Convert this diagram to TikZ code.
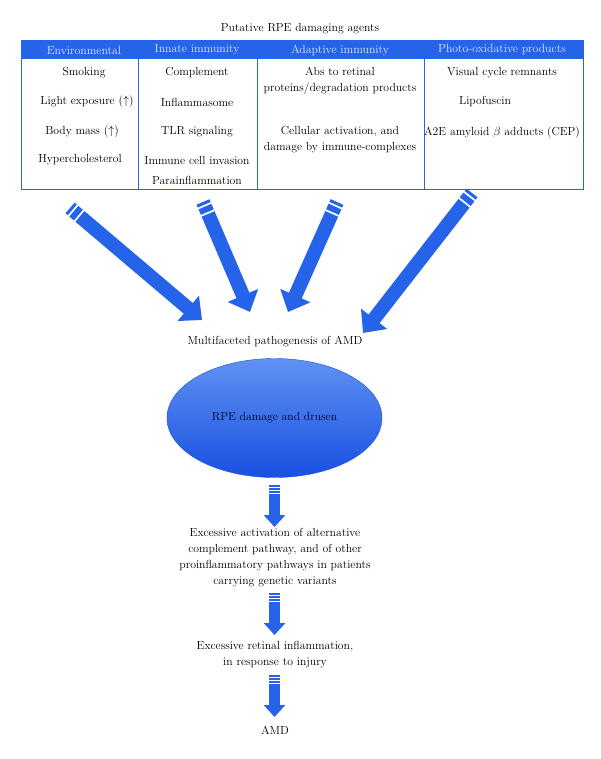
\documentclass[tikz,border=0pt]{standalone}
\usetikzlibrary{arrows.meta,calc,shapes.geometric}

\definecolor{rpeblue}{RGB}{37,99,232}
\definecolor{rpelight}{RGB}{96,145,242}
\definecolor{rpedark}{RGB}{24,80,225}
\definecolor{headtext}{RGB}{222,232,255}

\tikzset{
  big shaft/.style={draw=rpeblue,line width=14pt},
  big head/.style={-{Triangle[width=32pt,length=18pt]}},
  small shaft/.style={draw=rpeblue,line width=11pt},
  small head/.style={-{Triangle[width=21pt,length=12pt]}}
}
\newcommand{\bigarrow}[2]{
    \draw[big shaft] (#1) -- ($(#1)!3pt!(#2)$);
    \draw[big shaft] ($(#1)!5pt!(#2)$) -- ($(#1)!11pt!(#2)$);
    \draw[big shaft,big head] ($(#1)!13pt!(#2)$) -- (#2);
}
\newcommand{\smallarrow}[2]{
    \draw[small shaft] (#1) -- ($(#1)!2pt!(#2)$);
    \draw[small shaft] ($(#1)!3pt!(#2)$) -- ($(#1)!5pt!(#2)$);
    \draw[small shaft] ($(#1)!6pt!(#2)$) -- ($(#1)!8pt!(#2)$);
    \draw[small shaft,small head] ($(#1)!9pt!(#2)$) -- (#2);
}

\begin{document}
\begin{tikzpicture}[x=1pt, y=-1pt]
        \tikzstyle{label}=[inner sep=0pt,font=\fontsize{11.7}{16}\selectfont,align=center]
        \tikzstyle{head}=[inner sep=0pt,text=headtext,font=\fontsize{11.8}{13}\selectfont]
        \tikzstyle{cell}=[draw=rpeblue,line width=0.8pt]

        \useasboundingbox (0,0) rectangle (600,759);

        % table of damaging agents
        \node[label] (T) at (300,29) {Putative RPE damaging agents};
        \fill[rpeblue] (21,40) rectangle (583,59);
        \draw[cell] (21,40) rectangle (583,189);
        \draw[cell] (138,59) -- (138,189);
        \draw[cell] (257,59) -- (257,189);
        \draw[cell] (424,59) -- (424,189);

        \node[head] (H_1) at (84,50)  {Environmental};
        \node[head] (H_2) at (197,50) {Innate immunity};
        \node[head] (H_3) at (340,50) {Adaptive immunity};
        \node[head] (H_4) at (502,50) {Photo-oxidative products};

        \node[label] (E_1) at (84,73)  {Smoking};
        \node[label] (E_2) at (87,102) {Light exposure ($\uparrow$)};
        \node[label] (E_3) at (82,132) {Body mass ($\uparrow$)};
        \node[label] (E_4) at (80,160) {Hypercholesterol};

        \node[label] (I_1) at (197,73)  {Complement};
        \node[label] (I_2) at (197,102) {Inflammasome};
        \node[label] (I_3) at (197,132) {TLR signaling};
        \node[label] (I_4) at (197,160) {Immune cell invasion};
        \node[label] (I_5) at (197,180) {Parainflammation};

        \node[label] (A_1) at (340,81)  {Abs to retinal\\proteins/degradation products};
        \node[label] (A_2) at (340,140) {Cellular activation, and\\damage by immune-complexes};

        \node[label] (O_1) at (502,73)  {Visual cycle remnants};
        \node[label] (O_2) at (485,102) {Lipofuscin};
        \node[label] (O_3) at (502,133) {A2E amyloid $\beta$ adducts (CEP)};

        % converging arrows
        \coordinate (S_1) at (70,208);
        \coordinate (S_2) at (203,202);
        \coordinate (S_3) at (337,202);
        \coordinate (S_4) at (472,193);
        \coordinate (P_1) at (202,320);
        \coordinate (P_2) at (250,312);
        \coordinate (P_3) at (288,312);
        \coordinate (P_4) at (363,333);
        \bigarrow{S_1}{P_1}
        \bigarrow{S_2}{P_2}
        \bigarrow{S_3}{P_3}
        \bigarrow{S_4}{P_4}

        \node[label] (M) at (275,342) {Multifaceted pathogenesis of AMD};

        % cascade
        \node[ellipse,draw=rpedark,top color=rpelight,bottom color=rpedark,
              minimum width=215pt,minimum height=119pt,inner sep=0pt,
              font=\fontsize{11.7}{13}\selectfont,text=black!85!blue] (R) at (274.5,418) {RPE damage and drusen};

        \node[label] (C_1) at (275,557.5) {Excessive activation of alternative\\complement pathway, and of other\\proinflammatory pathways in patients\\carrying genetic variants};
        \node[label] (C_2) at (275,654.5) {Excessive retinal inflammation,\\in response to injury};
        \node[label] (C_3) at (275,730) {AMD};

        \coordinate (D_1) at (274.5,485);
        \coordinate (D_2) at (274.5,527);
        \coordinate (D_3) at (274.5,593);
        \coordinate (D_4) at (274.5,635);
        \coordinate (D_5) at (274.5,675);
        \coordinate (D_6) at (274.5,717);
        \smallarrow{D_1}{D_2}
        \smallarrow{D_3}{D_4}
        \smallarrow{D_5}{D_6}
\end{tikzpicture}
\end{document}
